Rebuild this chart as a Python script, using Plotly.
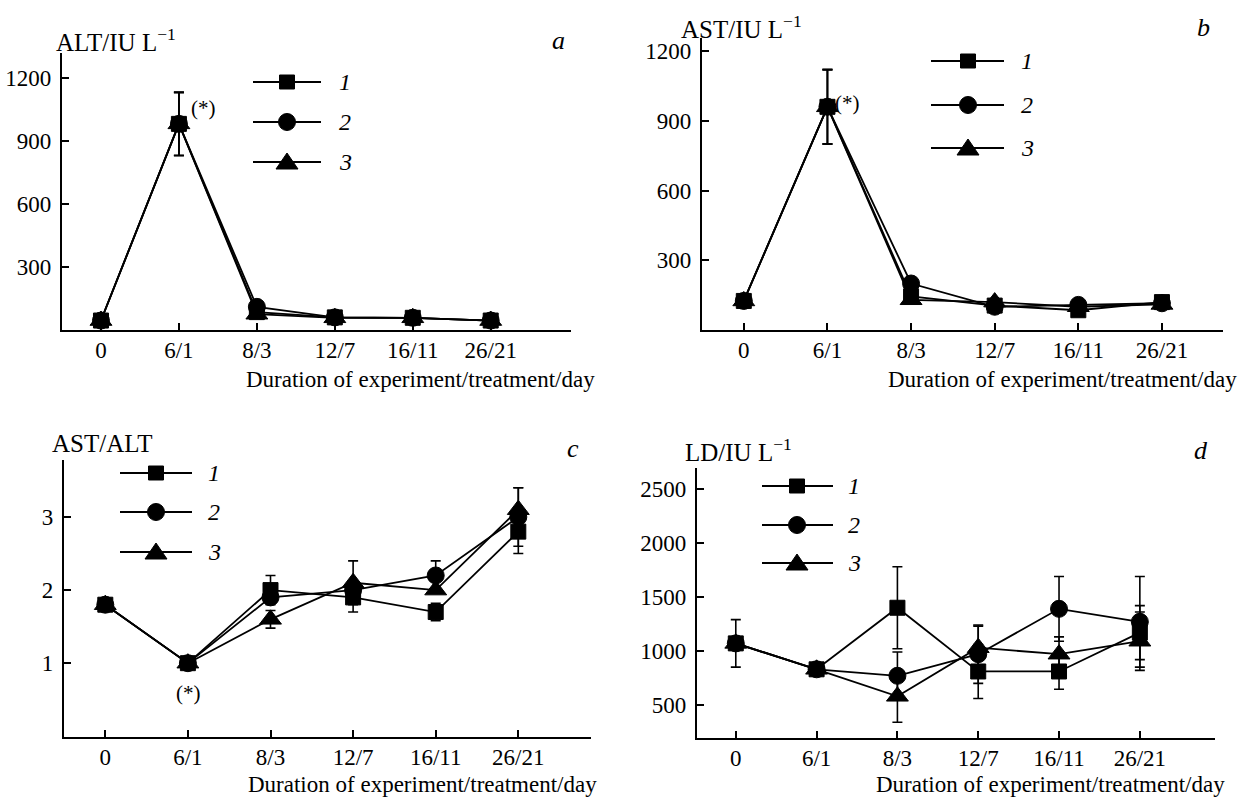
import plotly.graph_objects as go

W, H = 1243, 798

# ---- data -------------------------------------------------------------
days = ["0", "6/1", "8/3", "12/7", "16/11", "26/21"]
xpos = [0, 1, 2, 3, 4, 5]

alt_1 = [45, 980, 85, 60, 58, 45]
alt_2 = [45, 980, 110, 60, 58, 45]
alt_3 = [45, 980, 75, 58, 58, 45]
alt_err_1 = [0, 150, 0, 0, 0, 0]
alt_err_2 = [0, 150, 0, 0, 0, 0]
alt_err_3 = [0, 150, 0, 0, 0, 0]

ast_1 = [125, 960, 145, 105, 85, 120]
ast_2 = [125, 960, 200, 100, 108, 115]
ast_3 = [125, 960, 130, 120, 100, 110]
ast_err_1 = [0, 160, 0, 0, 0, 0]
ast_err_2 = [0, 160, 0, 0, 0, 0]
ast_err_3 = [0, 160, 0, 0, 0, 0]

ratio_1 = [1.8, 1.0, 2.0, 1.9, 1.7, 2.8]
ratio_2 = [1.8, 1.0, 1.9, 2.0, 2.2, 3.0]
ratio_3 = [1.8, 1.0, 1.6, 2.1, 2.0, 3.1]
ratio_err_1 = [0.05, 0, 0.2, 0.2, 0.12, 0.3]
ratio_err_2 = [0, 0, 0, 0.1, 0.2, 0.4]
ratio_err_3 = [0, 0, 0.12, 0.3, 0, 0.3]

ld_1 = [1070, 830, 1400, 810, 810, 1170]
ld_2 = [1070, 830, 770, 970, 1390, 1270]
ld_3 = [1070, 830, 580, 1030, 970, 1090]
ld_err_1 = [220, 0, 380, 250, 165, 250]
ld_err_2 = [0, 0, 220, 270, 300, 420]
ld_err_3 = [0, 0, 240, 200, 160, 270]

FONT = "Liberation Serif"


def px(x):
    return x / W


def py(y):
    return 1 - y / H


# panel boxes in pixels: left, right, top, bottom
panels = [
    dict(box=(62, 571, 53, 330), xr=[-0.5, 6.03], yr=[0, 1317],
         ticks=[300, 600, 900, 1200],
         series=[(alt_1, alt_err_1), (alt_2, alt_err_2), (alt_3, alt_err_3)],
         ytitle="ALT/IU L<sup>\u22121</sup>", ytitle_pos=(54, 40),
         letter="a", letter_pos=(558, 40),
         title_right=(597, 379), legend_x=(253, 287, 321, 337), legend_y=[82, 122, 162],
         star=(203, 108)),
    dict(box=(702, 1223, 38, 330), xr=[-0.5, 5.73], yr=[0, 1256],
         ticks=[300, 600, 900, 1200],
         series=[(ast_1, ast_err_1), (ast_2, ast_err_2), (ast_3, ast_err_3)],
         ytitle="AST/IU L<sup>\u22121</sup>", ytitle_pos=(679, 27),
         letter="b", letter_pos=(1203, 27),
         title_right=(1239, 379), legend_x=(931, 968, 1004, 1019), legend_y=[61, 105, 148],
         star=(848, 103)),
    dict(box=(64, 591, 460, 737), xr=[-0.5, 5.88], yr=[-0.01, 3.78],
         ticks=[1, 2, 3],
         series=[(ratio_1, ratio_err_1), (ratio_2, ratio_err_2), (ratio_3, ratio_err_3)],
         ytitle="AST/ALT", ytitle_pos=(50, 443),
         letter="c", letter_pos=(573, 448),
         title_right=(599, 784), legend_x=(120, 156, 192, 206), legend_y=[473, 512, 552],
         star=(188, 693)),
    dict(box=(697, 1215, 468, 738), xr=[-0.48, 5.93], yr=[194, 2694],
         ticks=[500, 1000, 1500, 2000, 2500],
         series=[(ld_1, ld_err_1), (ld_2, ld_err_2), (ld_3, ld_err_3)],
         ytitle="LD/IU L<sup>\u22121</sup>", ytitle_pos=(683, 450),
         letter="d", letter_pos=(1201, 450),
         title_right=(1227, 784), legend_x=(762, 797, 833, 846), legend_y=[486, 525, 563],
         star=None),
]

symbols = ["square", "circle", "triangle-up"]
sizes = [15, 17, 19]

fig = go.Figure()
annotations = []
shapes = []
layout_axes = {}

for i, p in enumerate(panels):
    n = "" if i == 0 else str(i + 1)
    xa, ya = "x" + n, "y" + n
    left, right, top, bottom = p["box"]
    axis_common = dict(showline=True, linecolor="black", linewidth=2.4,
                       ticks="inside", ticklen=7, tickwidth=2, tickcolor="black",
                       showgrid=False, zeroline=False,
                       tickfont=dict(family=FONT, size=23, color="black"))
    layout_axes["xaxis" + n] = dict(domain=[px(left), px(right)], range=p["xr"],
                                    anchor=ya, tickvals=xpos, ticktext=days,
                                    ticklabelstandoff=-2, **axis_common)
    layout_axes["yaxis" + n] = dict(domain=[py(bottom), py(top)], range=p["yr"],
                                    anchor=xa, tickvals=p["ticks"],
                                    ticklabelstandoff=4, **axis_common)

    for (vals, err), sym, sz in zip(p["series"], symbols, sizes):
        fig.add_trace(go.Scatter(
            x=xpos, y=vals, xaxis=xa, yaxis=ya, mode="lines+markers",
            line=dict(color="black", width=1.8),
            marker=dict(symbol=sym, size=sz, color="black",
                        line=dict(color="black", width=1)),
            error_y=dict(type="data", array=err, symmetric=True, visible=True,
                         color="black", thickness=1.6, width=5),
            showlegend=False, cliponaxis=False))

    # axis titles and panel letter
    annotations.append(dict(x=px(p["ytitle_pos"][0]), y=py(p["ytitle_pos"][1]),
                            xref="paper", yref="paper", xanchor="left", yanchor="middle",
                            text=p["ytitle"], showarrow=False,
                            font=dict(family=FONT, size=25, color="black")))
    annotations.append(dict(x=px(p["letter_pos"][0]), y=py(p["letter_pos"][1]),
                            xref="paper", yref="paper", xanchor="center", yanchor="middle",
                            text="<i>" + p["letter"] + "</i>", showarrow=False,
                            font=dict(family=FONT, size=26, color="black")))
    annotations.append(dict(x=px(p["title_right"][0]), y=py(p["title_right"][1]),
                            xref="paper", yref="paper", xanchor="right", yanchor="middle",
                            text="Duration of experiment/treatment/day", showarrow=False,
                            font=dict(family=FONT, size=23, color="black")))
    if p["star"]:
        annotations.append(dict(x=px(p["star"][0]), y=py(p["star"][1]),
                                xref="paper", yref="paper", xanchor="center",
                                yanchor="middle", text="(*)", showarrow=False,
                                font=dict(family=FONT, size=21, color="black")))

    # legend: line sample, marker glyph, italic number
    lx0, lxm, lx1, ltx = p["legend_x"]
    for k, ly in enumerate(p["legend_y"]):
        shapes.append(dict(type="line", xref="paper", yref="paper",
                           x0=px(lx0), x1=px(lx1), y0=py(ly), y1=py(ly),
                           line=dict(color="black", width=2)))
        common = dict(xref="paper", yref="paper", xsizemode="pixel", ysizemode="pixel",
                      xanchor=px(lxm), yanchor=py(ly),
                      fillcolor="black", line=dict(color="black", width=1))
        if k == 0:
            shapes.append(dict(type="rect", x0=-7.5, x1=7.5, y0=-7, y1=7, **common))
        elif k == 1:
            shapes.append(dict(type="circle", x0=-8.5, x1=8.5, y0=-8.5, y1=8.5, **common))
        else:
            shapes.append(dict(type="path", path="M-11,-7 L11,-7 L0,9 Z", **common))
        annotations.append(dict(x=px(ltx), y=py(ly), xref="paper", yref="paper",
                                xanchor="left", yanchor="middle",
                                text="<i>" + str(k + 1) + "</i>", showarrow=False,
                                font=dict(family=FONT, size=24, color="black")))

fig.update_layout(
    width=W, height=H,
    margin=dict(l=0, r=0, t=0, b=0),
    paper_bgcolor="white", plot_bgcolor="white",
    showlegend=False,
    annotations=annotations, shapes=shapes,
    **layout_axes)

fig.write_html("out.html")
